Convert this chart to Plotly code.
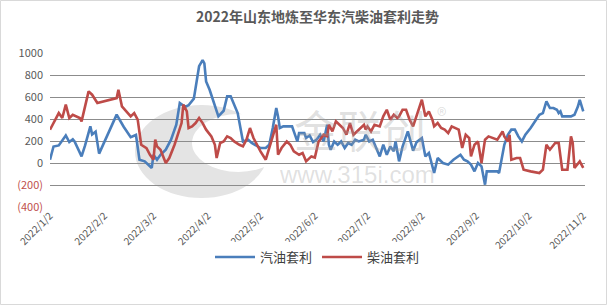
import plotly.graph_objects as go

# ---------------- data ----------------
gas_dates = ["01-02","01-04","01-07","01-11","01-13","01-15","01-16","01-20","01-22","01-25",
             "01-26","01-28","01-30","02-09","02-13","02-17","02-20","02-22","02-25","02-27",
             "03-01","03-02","03-04","03-06","03-09","03-12","03-15","03-17","03-20","03-22",
             "03-25","03-28","03-30","03-31","04-01","04-03","04-05","04-07","04-08","04-11",
             "04-13","04-15","04-17","04-19","04-22","04-25","04-27","04-30","05-02","05-05",
             "05-07","05-09","05-11","05-12","05-13","05-15","05-20","05-21","05-23","05-24",
             "05-27","05-28","05-30","06-01","06-03","06-05","06-07","06-09","06-10","06-11",
             "06-13","06-15","06-17","06-19","06-21","06-23","06-25","06-27","06-30","07-01",
             "07-03","07-05","07-07","07-09","07-11","07-13","07-15","07-17","07-18","07-20",
             "07-22","07-25","07-28","07-30","08-02","08-04","08-06","08-08","08-09","08-11",
             "08-14","08-17","08-20","08-24","08-26","08-28","08-30","09-01","09-03","09-05",
             "09-07","09-08","09-11","09-14","09-15","09-17","09-18","09-20","09-22","09-24",
             "09-26","09-28","09-30","10-03","10-07","10-08","10-10","10-12","10-14","10-16",
             "10-18","10-19","10-20","10-21","10-26","10-28","10-30","10-31","11-02"]
gas_values = [30,150,160,250,190,215,196,60,160,333,
              260,285,85,440,330,235,255,30,15,-15,
              -45,75,30,75,121,212,348,545,510,525,
              585,880,935,905,742,666,560,469,424,475,
              606,606,530,454,196,212,182,151,136,136,
              166,318,500,424,318,333,333,287,196,272,
              272,227,250,190,212,257,196,348,166,121,
              196,166,196,136,182,166,212,196,212,257,
              196,212,136,60,166,75,151,106,196,15,
              150,287,112,190,227,60,91,-30,-91,45,
              0,-15,30,75,30,15,-15,-76,0,-30,
              -197,-76,-76,-76,-91,75,166,257,303,303,
              242,196,257,318,409,439,454,560,500,500,
              484,454,469,424,424,439,515,575,469]

diesel_dates = ["01-02","01-05","01-07","01-09","01-11","01-13","01-15","01-19","01-20","01-24",
                "01-26","01-29","02-09","02-10","02-12","02-17","02-19","02-21","02-23","02-26",
                "02-28","03-02","03-03","03-04","03-06","03-09","03-11","03-14","03-16","03-18",
                "03-19","03-21","03-22","03-24","03-26","03-28","03-30","04-01","04-04","04-06",
                "04-07","04-09","04-11","04-13","04-15","04-17","04-20","04-22","04-24","04-26",
                "04-28","04-30","05-02","05-05","05-08","05-11","05-12","05-14","05-17","05-19",
                "05-21","05-24","05-26","05-28","05-31","06-02","06-04","06-05","06-07","06-09",
                "06-10","06-12","06-14","06-16","06-18","06-20","06-22","06-24","06-27","06-30",
                "07-01","07-02","07-04","07-06","07-09","07-11","07-13","07-15","07-17","07-19",
                "07-20","07-22","07-24","07-26","07-28","07-30","08-02","08-04","08-06","08-08",
                "08-09","08-11","08-13","08-15","08-17","08-19","08-21","08-23","08-25","08-27",
                "08-29","08-30","09-01","09-03","09-05","09-07","09-09","09-11","09-14","09-17",
                "09-18","09-20","09-21","09-22","09-25","09-27","09-29","10-03","10-08","10-10",
                "10-12","10-14","10-17","10-19","10-21","10-24","10-26","10-27","10-28","10-31",
                "11-02"]
diesel_values = [303,394,454,409,530,409,439,409,378,651,
                 621,545,590,666,515,424,454,394,166,136,
                 75,30,212,151,121,0,45,166,272,363,
                 530,469,318,333,363,409,363,303,242,166,
                 45,182,196,242,227,196,166,151,212,318,
                 227,166,106,30,196,348,75,136,196,166,
                 106,75,91,15,60,50,190,212,257,242,
                 348,287,378,348,318,257,363,257,303,348,
                 303,333,287,348,333,424,484,394,439,409,
                 424,484,484,394,333,439,575,424,469,394,
                 333,363,318,303,272,333,318,303,136,257,
                 227,60,166,196,0,212,242,227,212,287,
                 242,196,257,30,45,45,-61,-76,-91,-61,
                 166,121,182,182,-61,-61,242,182,-45,15,
                 -45]

y_ticks = [1000, 800, 600, 400, 200, 0, -200, -400]
y_labels = ["1000", "800", "600", "400", "200", "0",
            "<span style='color:#C0504D'>(200)</span>",
            "<span style='color:#C0504D'>(400)</span>"]
x_ticks = ["2022-01-02","2022-02-02","2022-03-02","2022-04-02","2022-05-02","2022-06-02",
           "2022-07-02","2022-08-02","2022-09-02","2022-10-02","2022-11-02"]
x_labels = ["2022/1/2","2022/2/2","2022/3/2","2022/4/2","2022/5/2","2022/6/2",
            "2022/7/2","2022/8/2","2022/9/2","2022/10/2","2022/11/2"]

series_names = ["汽油套利", "柴油套利"]
colors = ["#4A7EBB", "#BE4B48"]

# ---------------- figure ----------------
W, H = 607, 305
L, R, T, B = 50, 22, 53, 98
FONT = "Noto Sans CJK SC"
pw, ph = W - L - R, H - T - B


def px(x):
    return (x - L) / pw


def py(y):
    return (T + ph - y) / ph


fig = go.Figure()
fig.add_trace(go.Scatter(x=["2022-" + d for d in gas_dates], y=gas_values, mode="lines",
                         name=series_names[0], line=dict(color=colors[0], width=2.6)))
fig.add_trace(go.Scatter(x=["2022-" + d for d in diesel_dates], y=diesel_values, mode="lines",
                         name=series_names[1], line=dict(color=colors[1], width=2.6)))

# outer border
fig.add_shape(type="rect", xref="paper", yref="paper",
              x0=px(0.5), x1=px(W - 0.5), y0=py(H - 0.5), y1=py(0.5),
              line=dict(color="#D9D9D9", width=1), layer="below")

# watermark logo (approximate crescent) drawn below grid and lines
fig.add_shape(type="circle", xref="paper", yref="paper",
              x0=px(135), x1=px(268), y0=py(198), y1=py(105),
              fillcolor="#E4E4E4", line=dict(width=0), layer="below")
fig.add_shape(type="circle", xref="paper", yref="paper",
              x0=px(192), x1=px(285), y0=py(172), y1=py(114),
              fillcolor="white", line=dict(width=0), layer="below")

# watermark text
wm = "rgba(160,160,160,0.33)"
fig.add_annotation(xref="paper", yref="paper", x=px(360), y=py(129), text="金联创",
                   showarrow=False, font=dict(family=FONT, size=44, color=wm))
fig.add_annotation(xref="paper", yref="paper", x=px(448), y=py(98), text="®",
                   showarrow=False, font=dict(family=FONT, size=20, color=wm))
fig.add_annotation(xref="paper", yref="paper", x=px(357), y=py(190), text="www.315i.com",
                   showarrow=False, font=dict(family="Liberation Sans", size=24, color=wm))

fig.update_layout(
    width=W, height=H,
    margin=dict(l=L, r=R, t=T, b=B),
    paper_bgcolor="white", plot_bgcolor="white",
    title=dict(text="<b>2022年山东地炼至华东汽柴油套利走势</b>", x=0.5, xref="paper",
               y=1 - 17 / H, yanchor="middle",
               font=dict(family=FONT, size=14, color="#595959")),
    font=dict(family=FONT, color="#595959"),
    showlegend=True,
    legend=dict(orientation="h", x=0.5, xref="paper", xanchor="center",
                y=py(257), yanchor="middle",
                font=dict(family=FONT, size=13, color="#404040"),
                itemwidth=40, tracegroupgap=0),
    xaxis=dict(type="date", range=["2022-01-02", "2022-11-03"],
               tickvals=x_ticks, ticktext=x_labels, tickangle=-45,
               tickfont=dict(family=FONT, size=10, color="#595959"),
               showgrid=False, showline=False, zeroline=False, ticks=""),
    yaxis=dict(range=[-400, 1000], tickvals=y_ticks, ticktext=y_labels,
               tickfont=dict(family=FONT, size=11, color="#595959"),
               showgrid=True, gridcolor="#8C8C8C", gridwidth=1,
               zeroline=False, showline=False, ticks="", ticklabelstandoff=6),
)

fig.write_html("out.html")
